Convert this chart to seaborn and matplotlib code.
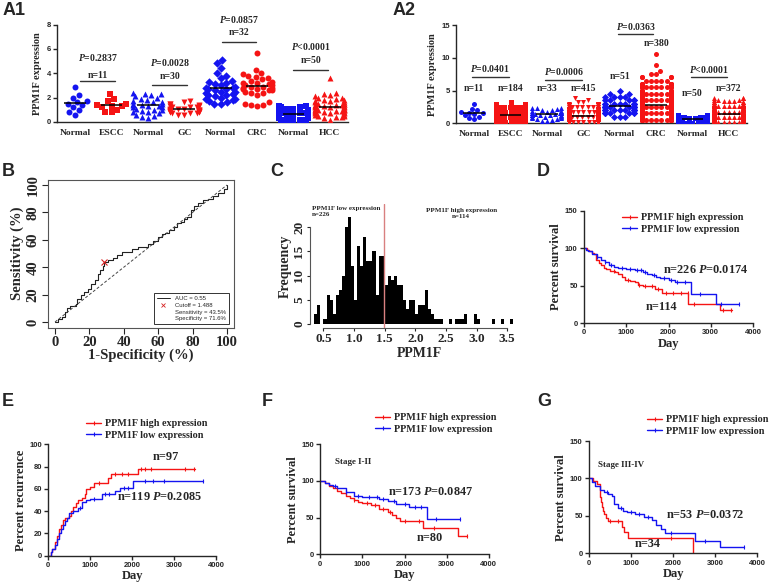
import warnings
import numpy as np
import pandas as pd
import matplotlib
matplotlib.use('Agg')
import matplotlib.pyplot as plt
from matplotlib.lines import Line2D
import seaborn as sns

warnings.filterwarnings('ignore')

# ---------------- data ----------------
BLUE = '#1414f0'
RED = '#f51414'

a_keys = ['N_ESCC', 'ESCC', 'N_GC', 'GC', 'N_CRC', 'CRC', 'N_HCC', 'HCC']
a_labels = ['Normal', 'ESCC', 'Normal', 'GC', 'Normal', 'CRC', 'Normal', 'HCC']
a_markers = ['o', 's', '^', 'v', 'D', 'o', 's', '^']
a_colors = [BLUE, RED, BLUE, RED, BLUE, RED, BLUE, RED]

# A1: paired samples
a1_n_escc = [2.9, 2.2, 2.0, 1.7, 1.6, 1.5, 1.4, 1.2, 1.0, 0.8, 0.6]
a1_escc = [2.3, 1.9, 1.7, 1.5, 1.4, 1.3, 1.3, 1.2, 1.0, 0.8, 0.8]
a1_n_gc = [2.4, 2.3, 2.3, 2.2, 2.1, 2.0, 1.9, 1.8, 1.7, 1.6, 1.6, 1.5, 1.5, 1.4, 1.4,
           1.3, 1.3, 1.2, 1.2, 1.1, 1.0, 1.0, 0.9, 0.8, 0.8, 0.7, 0.6, 0.5, 0.4, 0.3]
a1_gc = [1.7, 1.6, 1.5, 1.5, 1.4, 1.3, 1.3, 1.2, 1.2, 1.2, 1.1, 1.1, 1.1, 1.0, 1.0,
         1.0, 1.0, 0.9, 0.9, 0.9, 0.9, 0.8, 0.8, 0.8, 0.8, 0.7, 0.7, 0.7, 0.6, 0.6]
a1_n_crc = [5.1, 4.8, 4.4, 4.0, 3.8, 3.6, 3.4, 3.3, 3.2, 3.1, 3.0, 2.9, 2.8, 2.8, 2.7, 2.7,
            2.6, 2.5, 2.5, 2.4, 2.3, 2.2, 2.2, 2.1, 2.0, 1.9, 1.9, 1.8, 1.7, 1.6, 1.5, 1.5]
a1_crc = [5.7, 4.3, 4.0, 3.9, 3.8, 3.7, 3.6, 3.5, 3.4, 3.3, 3.2, 3.2, 3.1, 3.0, 3.0, 2.9,
          2.9, 2.8, 2.8, 2.7, 2.6, 2.5, 2.4, 2.7, 2.6, 2.4, 2.2, 1.6, 1.5, 1.4, 1.4, 1.3]
a1_n_hcc = [1.3, 1.3, 1.2, 1.2, 1.1, 1.1, 1.0, 1.0, 1.0, 0.9, 0.9, 0.9, 0.9, 0.8, 0.8, 0.8, 0.8,
            0.8, 0.7, 0.7, 0.7, 0.7, 0.7, 0.7, 0.6, 0.6, 0.6, 0.6, 0.6, 0.6, 0.5, 0.5, 0.5, 0.5,
            0.5, 0.5, 0.4, 0.4, 0.4, 0.4, 0.4, 0.3, 0.3, 0.3, 0.3, 0.2, 0.2, 0.2, 0.1, 0.1]
a1_hcc = [3.6, 2.4, 2.3, 2.2, 2.1, 2.0, 2.0, 1.9, 1.8, 1.8, 1.7, 1.7, 1.6, 1.6, 1.5, 1.5, 1.5,
          1.4, 1.4, 1.4, 1.3, 1.3, 1.3, 1.2, 1.2, 1.2, 1.1, 1.1, 1.1, 1.0, 1.0, 1.0, 1.0, 0.9,
          0.9, 0.9, 0.8, 0.8, 0.8, 0.7, 0.7, 0.7, 0.6, 0.6, 0.5, 0.5, 0.4, 0.4, 0.3, 0.2]
a1_p = ['$P$=0.2837', '$P$=0.0028', '$P$=0.0857', '$P$<0.0001']
a1_n = ['n=11', 'n=30', 'n=32', 'n=50']

# A2: unpaired samples (value levels and how many points sit at each level)
a2_n_gc_extra = [1.5, 1.2, 1.9]
a2_escc_lv = [0.25, 0.5, 0.75, 1.0, 1.25, 1.5, 1.75, 2.0, 2.25, 2.5, 2.75, 3.0, 3.25]
a2_escc_ct = [12, 22, 28, 30, 26, 20, 14, 10, 8, 6, 4, 3, 1]
a2_gc_lv = [0.25, 0.5, 0.75, 1.0, 1.25, 1.5, 1.75, 2.0, 2.25, 2.5, 2.75, 3.0, 3.25, 3.5, 3.9]
a2_gc_ct = [50, 70, 75, 65, 50, 35, 25, 15, 10, 8, 5, 3, 2, 1, 1]
a2_n_crc_lv = [1.0, 1.5, 2.0, 2.5, 3.0, 3.5, 4.0, 4.5, 5.0]
a2_n_crc_ct = [3, 7, 10, 11, 8, 5, 4, 2, 1]
a2_crc_lv = [0.5, 1.0, 1.5, 2.0, 2.5, 3.0, 3.5, 4.0, 4.5, 5.0, 5.5, 6.0, 6.5, 7.0, 7.5, 8.0, 8.9, 10.5]
a2_crc_ct = [18, 35, 50, 55, 50, 40, 38, 31, 18, 14, 10, 7, 5, 4, 2, 1, 1, 1]
a2_hcc_lv = [0.2, 0.4, 0.6, 0.8, 1.0, 1.2, 1.4, 1.6, 1.8, 2.0, 2.2, 2.4, 2.6, 2.8, 3.0, 3.2, 3.4, 3.6, 3.8]
a2_hcc_ct = [10, 20, 34, 39, 44, 38, 35, 30, 27, 22, 18, 15, 12, 10, 5, 4, 3, 3, 3]
a2_p = ['$P$=0.0401', '$P$=0.0006', '$P$=0.0363', '$P$<0.0001']
a2_n = ['n=11', 'n=184', 'n=33', 'n=415', 'n=51', 'n=380', 'n=50', 'n=372']

# B: ROC curve (percent)
roc_fpr = [0, 2, 4, 6, 7, 9, 12, 13, 15, 17, 19, 21, 23, 25, 26, 28, 28.4, 31, 34, 36, 39, 42,
           45, 48, 51, 54, 57, 60, 62, 64, 66, 69, 71, 73, 75, 77, 79, 81, 83, 86, 89, 92, 95, 98, 100]
roc_tpr = [0, 2, 4, 7, 10, 12, 13, 17, 20, 22, 24, 28, 31, 35, 38, 41, 43.5, 45, 47, 49, 51, 51,
           53, 55, 55, 57, 59, 62, 64, 65, 67, 69, 72, 73, 75, 77, 82, 85, 87, 89, 90, 92, 94, 97, 100]
roc_cut = (28.4, 43.5)
roc_legend = ['AUC = 0.55', 'Cutoff = 1.488', 'Sensitivity = 43.5%', 'Specificity = 71.6%']

# C: histogram of PPM1F expression, bins of 0.05 starting at 0.35
hist_start = 0.35
hist_counts = [2, 4, 0, 1, 6, 5, 2, 6, 7, 10, 20, 22, 12, 5, 16, 12, 18, 13, 13, 15, 6, 14, 14,
               8, 10, 9, 10, 8, 8, 5, 3, 5, 5, 2, 4, 4, 7, 3, 2, 1, 1, 1, 0, 0, 1, 0, 1, 1, 1, 2,
               0, 0, 2, 1, 0, 0, 0, 0, 1, 0, 0, 1, 0, 0, 1]
cutoff = 1.488

# D: overall survival
d_hi_t = [0, 60, 120, 180, 240, 290, 350, 410, 480, 530, 620, 730, 810, 890, 970, 1100, 1200,
          1280, 1400, 1520, 1680, 1840, 2455, 3225, 3500]
d_hi_s = [100, 98, 96, 94, 92, 85, 81, 78, 74, 72, 70, 68, 65, 62, 57, 56, 55, 51, 50, 49, 45,
          40, 26, 18, 18]
d_lo_t = [0, 50, 100, 200, 300, 400, 500, 600, 700, 800, 1000, 1200, 1400, 1500, 1600, 1700,
          1800, 2000, 2150, 2540, 3120, 3680]
d_lo_s = [100, 98, 96, 92, 89, 85, 82, 78, 75, 73, 72, 71, 68, 66, 64, 62, 60, 58, 55, 39, 26, 26]
d_hi_c = [700, 1050, 1300, 1450, 1600, 1750, 1950, 2100, 2300, 2450, 2600, 3300, 3480]
d_lo_c = [300, 500, 650, 900, 1100, 1250, 1350, 1450, 1650, 1900, 2050, 2200, 2400, 2750, 3250, 3680]

# E: recurrence
e_hi_t = [0, 60, 100, 150, 200, 250, 300, 350, 400, 500, 550, 600, 650, 700, 800, 880, 900,
          1000, 1100, 1430, 1500, 2130, 3500]
e_hi_s = [0, 3, 6, 12, 18, 24, 28, 32, 34, 36, 40, 44, 47, 50, 52, 55, 60, 62, 65, 70, 73, 78, 78]
e_lo_t = [0, 60, 100, 150, 200, 250, 300, 350, 400, 450, 500, 600, 700, 800, 900, 1000, 1290,
          1600, 1700, 2020, 3680]
e_lo_s = [0, 3, 6, 10, 15, 20, 24, 28, 31, 34, 38, 40, 43, 48, 50, 51, 55, 58, 61, 67, 67]
e_hi_c = [1200, 1600, 1750, 1900, 2200, 2300, 2450, 3250, 3480]
e_lo_c = [750, 1100, 1350, 1450, 1800, 1900, 2300, 2500, 2750, 3680]

# F: stage I-II survival
f_hi_t = [0, 100, 200, 300, 400, 500, 600, 700, 800, 900, 1000, 1200, 1400, 1600, 1700, 1800,
          1900, 2450, 3270, 3480]
f_hi_s = [100, 97, 93, 90, 87, 84, 80, 77, 74, 72, 70, 67, 62, 58, 54, 50, 46, 36, 25, 25]
f_lo_t = [0, 100, 200, 300, 400, 600, 800, 1000, 1400, 1600, 1800, 2100, 2540, 3320]
f_lo_s = [100, 97, 95, 93, 90, 85, 80, 78, 75, 73, 69, 65, 48, 48]
f_hi_c = [800, 1100, 1300, 1500, 1650, 2000, 2350, 2700, 3480]
f_lo_c = [350, 600, 900, 1150, 1350, 1500, 1750, 2000, 2250, 2400, 2750, 3320]

# G: stage III-IV survival
g_hi_t = [0, 100, 180, 250, 270, 290, 310, 330, 360, 400, 450, 780, 830, 930, 2480]
g_hi_s = [100, 97, 92, 85, 75, 68, 62, 56, 52, 47, 43, 35, 29, 21, 0]
g_lo_t = [0, 60, 150, 250, 350, 450, 550, 600, 700, 800, 900, 1100, 1300, 1500, 1600, 1700,
          1800, 2520, 3120, 3680]
g_lo_s = [100, 95, 90, 85, 82, 79, 77, 66, 60, 57, 55, 52, 48, 44, 38, 32, 27, 17, 9, 9]
g_hi_c = [500, 680, 1950]
g_lo_c = [420, 750, 1000, 1200, 1400, 1950, 2750, 3680]

km_labels = ['PPM1F high expression', 'PPM1F low expression']

# ---------------- style ----------------
sns.set_style('ticks')
SERIF = ['Liberation Serif', 'DejaVu Serif']
SANS = ['Liberation Sans', 'DejaVu Sans']
plt.rcParams['font.family'] = SERIF
plt.rcParams['font.weight'] = 'bold'
plt.rcParams['axes.labelweight'] = 'bold'
plt.rcParams['mathtext.fontset'] = 'custom'
plt.rcParams['mathtext.rm'] = 'Liberation Serif:bold'
plt.rcParams['mathtext.it'] = 'Liberation Serif:italic:bold'
plt.rcParams['mathtext.bf'] = 'Liberation Serif:bold'
plt.rcParams['axes.linewidth'] = 1.0

W, H = 778, 587
fig = plt.figure(figsize=(W / 100, H / 100), dpi=100)


def px_axes(x0, y_top, x1, y_bot):
    return fig.add_axes([x0 / W, 1 - y_bot / H, (x1 - x0) / W, (y_bot - y_top) / H])


def tick_font(ax, family, size, axis='both'):
    labels = []
    if axis in ('both', 'x'):
        labels += ax.get_xticklabels()
    if axis in ('both', 'y'):
        labels += ax.get_yticklabels()
    for lbl in labels:
        lbl.set_family(family)
        lbl.set_size(size)
        lbl.set_weight('bold')


def prism(ax):
    sns.despine(ax=ax)
    ax.spines['left'].set_linewidth(1.0)
    ax.spines['bottom'].set_linewidth(1.0)


# ---------------- A1 / A2 ----------------
def scatter_panel(ax, groups, size, ymax, yticks):
    for key, vals, mk, col in zip(a_keys, groups, a_markers, a_colors):
        d = pd.DataFrame({'group': key, 'value': vals})
        sns.swarmplot(data=d, x='group', y='value', order=a_keys, color=col, marker=mk,
                      size=size, linewidth=0, ax=ax, zorder=3)
        i = a_keys.index(key)
        ax.hlines(np.mean(vals), i - 0.3, i + 0.3, color='black', lw=1.1, zorder=5)
    ax.set_xlim(-0.5, 7.5)
    ax.set_ylim(0, ymax)
    ax.set_yticks(yticks)
    ax.set_xticks(range(8))
    ax.set_xticklabels(a_labels)
    ax.set_xlabel('')
    ax.set_ylabel('PPM1F expression', fontsize=7.5, labelpad=3)
    ax.tick_params(axis='x', length=0, pad=5)
    ax.tick_params(axis='y', length=3, width=1, pad=1.5)
    tick_font(ax, SERIF, 6.8, 'x')
    tick_font(ax, SANS, 5.5, 'y')
    prism(ax)


axA1 = px_axes(57, 24.5, 348, 122)
scatter_panel(axA1, [a1_n_escc, a1_escc, a1_n_gc, a1_gc, a1_n_crc, a1_crc, a1_n_hcc, a1_hcc],
              4.3, 8, [0, 2, 4, 6, 8])
a1_pos = [(0.14, 1.1, 3.35, 3.84, 5.28), (2.12, 3.07, 3.0, 3.76, 4.92),
          (4.03, 4.97, 6.6, 7.32, 8.4), (6.0, 6.96, 4.3, 5.06, 6.23)]
for (x0, x1, yl, yn, yp), pt, nt in zip(a1_pos, a1_p, a1_n):
    xm = (x0 + x1) / 2
    axA1.plot([x0, x1], [yl, yl], color='#333333', lw=1, clip_on=False)
    axA1.text(xm, yn, nt, ha='center', va='center', fontsize=7, clip_on=False)
    axA1.text(xm, yp, pt, ha='center', va='center', fontsize=7, clip_on=False)

a2_groups = [a1_n_escc,
             np.repeat(a2_escc_lv, a2_escc_ct),
             a1_n_gc + a2_n_gc_extra,
             np.repeat(a2_gc_lv, a2_gc_ct),
             np.repeat(a2_n_crc_lv, a2_n_crc_ct),
             np.repeat(a2_crc_lv, a2_crc_ct),
             a1_n_hcc,
             np.repeat(a2_hcc_lv, a2_hcc_ct)]
axA2 = px_axes(456, 25, 747, 123.3)
scatter_panel(axA2, a2_groups, 3.6, 15, [0, 5, 10, 15])
a2_pos = [(-0.07, 0.95, 7.1, 8.4), (1.95, 2.97, 6.6, 7.9),
          (3.95, 4.92, 13.6, 14.75), (5.95, 6.95, 7.0, 8.25)]
for (x0, x1, yl, yp), pt in zip(a2_pos, a2_p):
    axA2.plot([x0, x1], [yl, yl], color='#333333', lw=1, clip_on=False)
    axA2.text((x0 + x1) / 2, yp, pt, ha='center', va='center', fontsize=7, clip_on=False)
a2_ny = [5.35, 5.35, 5.35, 5.35, 7.1, 12.2, 4.6, 5.35]
for i, (nt, yn) in enumerate(zip(a2_n, a2_ny)):
    axA2.text(i, yn, nt, ha='center', va='center', fontsize=7, clip_on=False)

# ---------------- B ----------------
axB = px_axes(48.1, 179.5, 233.9, 327.5)
roc_df = pd.DataFrame({'fpr': roc_fpr, 'tpr': roc_tpr})
sns.lineplot(data=roc_df, x='fpr', y='tpr', drawstyle='steps-post', color='#222222', lw=0.8,
             ax=axB, errorbar=None, sort=False)
axB.plot([0, 100], [0, 100], ls=(0, (3, 2)), color='#444444', lw=0.7)
axB.plot([roc_cut[0]], [roc_cut[1]], 'x', color='#d62020', ms=4, mew=0.8)
axB.set_xlim(-4, 104)
axB.set_ylim(-4, 104)
axB.set_xticks([0, 20, 40, 60, 80, 100])
axB.set_yticks([0, 20, 40, 60, 80, 100])
axB.tick_params(length=4, width=0.8, pad=2)
axB.tick_params(axis='y', labelrotation=90)
for lbl in axB.get_yticklabels():
    lbl.set_va('center')
tick_font(axB, SERIF, 10.5)
axB.set_xlabel('1-Specificity (%)', fontsize=10.5, labelpad=0)
axB.set_ylabel('Sensitivity (%)', fontsize=10.5, labelpad=2)
for s in axB.spines.values():
    s.set_linewidth(0.8)
    s.set_color('#555555')
leg_h = [Line2D([0], [0], color='#222222', lw=0.7),
         Line2D([0], [0], color='#d62020', marker='x', ls='none', ms=3, mew=0.6),
         Line2D([0], [0], color='none'), Line2D([0], [0], color='none')]
legB = axB.legend(leg_h, roc_legend, loc='lower right', bbox_to_anchor=(0.972, 0.021),
                  prop={'family': SANS, 'size': 4.3, 'weight': 'normal'}, frameon=True,
                  fancybox=False, edgecolor='#333333', framealpha=1, borderpad=0.5,
                  labelspacing=0.25, handlelength=2.2, handletextpad=0.8, borderaxespad=0)
legB.get_frame().set_linewidth(0.7)

# ---------------- C ----------------
axC = px_axes(310, 204.2, 528, 328.3)
edges = [hist_start + 0.05 * i for i in range(len(hist_counts) + 1)]
hist_df = pd.DataFrame({'PPM1F': [e + 0.025 for e in edges[:-1]], 'count': hist_counts})
sns.histplot(data=hist_df, x='PPM1F', weights='count', bins=edges, color='black',
             edgecolor='black', linewidth=0, alpha=1, ax=axC)
axC.axvline(cutoff, color='#d98080', lw=1.0, zorder=4)
axC.set_xlim(0.28, 3.84)
axC.set_ylim(-0.88, 24.7)
axC.set_xticks([0.5, 1.0, 1.5, 2.0, 2.5, 3.0, 3.5])
axC.set_yticks([0, 5, 10, 15, 20])
axC.tick_params(length=2.5, width=0.8, pad=1)
axC.tick_params(axis='y', labelrotation=90)
for lbl in axC.get_yticklabels():
    lbl.set_va('center')
tick_font(axC, SERIF, 9.5)
sns.despine(ax=axC)
axC.spines['bottom'].set_bounds(0.5, 3.5)
axC.spines['left'].set_bounds(0, 20)
for s in ('bottom', 'left'):
    axC.spines[s].set_linewidth(0.8)
    axC.spines[s].set_color('#555555')
axC.set_xlabel('PPM1F', fontsize=10, labelpad=1)
axC.set_ylabel('Frequency', fontsize=10, labelpad=1)
axC.text(0.31, 24.3, 'PPM1F low expression\nn=226', ha='left', va='top', fontsize=5,
         linespacing=1.3)
axC.text(2.75, 24.0, 'PPM1F high expression\nn=114', ha='center', va='top', fontsize=5,
         linespacing=1.3, multialignment='center')


# ---------------- D-G ----------------
def km_panel(ax, curves, ymax, yticks, ylabel):
    for t, s, c, col in curves:
        d = pd.DataFrame({'t': t, 's': s})
        sns.lineplot(data=d, x='t', y='s', drawstyle='steps-post', color=col, lw=1.0,
                     ax=ax, errorbar=None)
        idx = np.searchsorted(t, c, side='right') - 1
        ax.plot(c, np.asarray(s)[idx], '|', color=col, ms=3, mew=0.8)
    ax.set_xlim(0, 4000)
    ax.set_ylim(0, ymax)
    ax.set_xticks([0, 1000, 2000, 3000, 4000])
    ax.set_yticks(yticks)
    ax.tick_params(length=3, width=1, pad=1.5)
    tick_font(ax, SANS, 5.5)
    ax.set_xlabel('Day', fontsize=9, labelpad=1)
    ax.set_ylabel(ylabel, fontsize=9, labelpad=2)
    prism(ax)


km_handles = [Line2D([0], [0], color=RED, lw=1, marker='|', ms=3.5, mew=0.8),
              Line2D([0], [0], color=BLUE, lw=1, marker='|', ms=3.5, mew=0.8)]


def km_legend(x, y):
    fig.legend(km_handles, km_labels, loc='upper left', bbox_to_anchor=(x / W, 1 - y / H),
               frameon=False, prop={'family': SERIF, 'size': 7.3, 'weight': 'bold'},
               handlelength=1.5, handletextpad=0.4, labelspacing=0.25, borderpad=0,
               borderaxespad=0)


axD = px_axes(584, 211, 753, 323)
km_panel(axD, [(d_hi_t, d_hi_s, d_hi_c, RED), (d_lo_t, d_lo_s, d_lo_c, BLUE)],
         150, [0, 50, 100, 150], 'Percent survival')
axD.text(1870, 71, 'n=226 $P$=0.0174', ha='left', va='center', fontsize=8.8)
axD.text(1830, 22, 'n=114', ha='center', va='center', fontsize=8.8)
km_legend(622, 213)

axE = px_axes(48.3, 444.3, 216, 555.7)
km_panel(axE, [(e_hi_t, e_hi_s, e_hi_c, RED), (e_lo_t, e_lo_s, e_lo_c, BLUE)],
         100, [0, 20, 40, 60, 80, 100], 'Percent recurrence')
axE.text(2800, 89, 'n=97', ha='center', va='center', fontsize=8.8)
axE.text(2650, 53, 'n=119 $P$=0.2085', ha='center', va='center', fontsize=8.8)
km_legend(86, 419)

axF = px_axes(320.3, 444.3, 488.7, 554.3)
km_panel(axF, [(f_hi_t, f_hi_s, f_hi_c, RED), (f_lo_t, f_lo_s, f_lo_c, BLUE)],
         150, [0, 50, 100, 150], 'Percent survival')
axF.text(360, 126, 'Stage I-II', ha='left', va='center', fontsize=6.5)
axF.text(1610, 85, 'n=173 $P$=0.0847', ha='left', va='center', fontsize=8.8)
axF.text(2600, 22, 'n=80', ha='center', va='center', fontsize=8.8)
km_legend(375, 413)

axG = px_axes(589, 441, 757.3, 553.3)
km_panel(axG, [(g_hi_t, g_hi_s, g_hi_c, RED), (g_lo_t, g_lo_s, g_lo_c, BLUE)],
         150, [0, 50, 100, 150], 'Percent survival')
axG.text(214, 118, 'Stage III-IV', ha='left', va='center', fontsize=6.5)
axG.text(1826, 51, 'n=53 $P$=0.0372', ha='left', va='center', fontsize=8.8)
axG.text(1400, 12, 'n=34', ha='center', va='center', fontsize=8.8)
km_legend(647, 415)

# ---------------- panel letters ----------------
letters = [('A1', 3, 2), ('A2', 393, 2), ('B', 2, 163), ('C', 270, 163), ('D', 537, 163),
           ('E', 2, 393), ('F', 262, 393), ('G', 537, 393)]
for txt, x, y in letters:
    fig.text(x / W, 1 - y / H, txt, ha='left', va='top', fontsize=13, fontweight='bold',
             family=SANS)

fig.savefig('out.png', dpi=100)
